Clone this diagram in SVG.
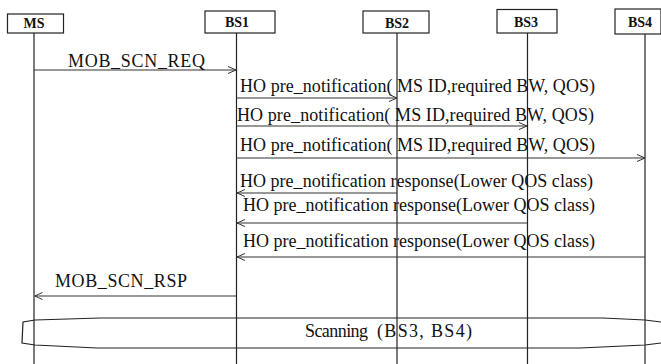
<svg xmlns="http://www.w3.org/2000/svg" width="661" height="364" viewBox="0 0 661 364">
<style>
.box{fill:#fff;stroke:#222;stroke-width:1.2}
.life{stroke:#222;stroke-width:1.2;fill:none}
.msg{stroke:#333;stroke-width:1.1;fill:none;marker-end:url(#open)}
text{font-family:"Times New Roman","Liberation Serif","DejaVu Serif",serif}
.lbl{font-size:14px;font-weight:bold;fill:#111;text-anchor:middle}
.t{font-size:18px;fill:#111}
.scan{fill:none;stroke:#222;stroke-width:1.2}
</style>
<defs>
<marker id="open" viewBox="0 0 8 8" refX="8" refY="4" markerWidth="8" markerHeight="8" markerUnits="userSpaceOnUse" orient="auto">
<path d="M0,0.5 L8,4 L0,7.5" fill="none" stroke="#333" stroke-width="1"/>
</marker>
</defs>
<rect width="661" height="364" fill="#fff"/>
<g id="lifelines">
<line class="life" x1="34" y1="33" x2="34" y2="364"/>
<line class="life" x1="236.5" y1="33" x2="236.5" y2="364"/>
<line class="life" x1="397" y1="33" x2="397" y2="364"/>
<line class="life" x1="527.5" y1="33" x2="527.5" y2="364"/>
<line class="life" x1="645" y1="34" x2="645" y2="364"/>
</g>
<g id="MS"><rect class="box" x="7.5" y="14" width="56" height="19"/><text class="lbl" x="34" y="28">MS</text></g>
<g id="BS1"><rect class="box" x="205" y="11" width="70" height="22"/><text class="lbl" x="237" y="27" font-size="15">BS1</text></g>
<g id="BS2"><rect class="box" x="363" y="11" width="66" height="22"/><text class="lbl" x="397" y="28">BS2</text></g>
<g id="BS3"><rect class="box" x="497" y="9.5" width="60" height="23.5"/><text class="lbl" x="526" y="27">BS3</text></g>
<g id="BS4"><rect class="box" x="615" y="9" width="46" height="25"/><text class="lbl" x="640" y="27">BS4</text></g>
<g id="connectors">
<line class="msg" x1="34" y1="70" x2="236" y2="70"/>
<line class="msg" x1="236.5" y1="98" x2="397" y2="98"/>
<line class="msg" x1="236.5" y1="126" x2="527" y2="126"/>
<line class="msg" x1="236.5" y1="158" x2="645" y2="158"/>
<line class="msg" x1="397" y1="193" x2="237" y2="193"/>
<line class="msg" x1="527.5" y1="223" x2="237" y2="223"/>
<line class="msg" x1="645" y1="257" x2="237" y2="257"/>
<line class="msg" x1="236.5" y1="296" x2="34.5" y2="296"/>
</g>
<g id="labels">
<text class="t" x="68" y="67" textLength="137" lengthAdjust="spacing">MOB_SCN_REQ</text>
<text class="t" x="240" y="92" textLength="355" lengthAdjust="spacing">HO pre_notification( MS ID,required BW, QOS)</text>
<text class="t" x="237" y="121" textLength="357" lengthAdjust="spacing">HO pre_notification( MS ID,required BW, QOS)</text>
<text class="t" x="240" y="151" textLength="355" lengthAdjust="spacing">HO pre_notification( MS ID,required BW, QOS)</text>
<text class="t" x="240" y="187" textLength="353" lengthAdjust="spacing">HO pre_notification response(Lower QOS class)</text>
<text class="t" x="243" y="211" textLength="352" lengthAdjust="spacing">HO pre_notification response(Lower QOS class)</text>
<text class="t" x="243" y="247" textLength="352" lengthAdjust="spacing">HO pre_notification response(Lower QOS class)</text>
<text class="t" x="55" y="287" textLength="132" lengthAdjust="spacing">MOB_SCN_RSP</text>
</g>
<g id="scanning">
<path class="scan" d="M661,322 L645,320 L603,318 L100,318 L35,320 L23,322 L22,343 L35,345 L97,348 L580,348 L645,345 L661,343"/>
<text class="t" x="305" y="337" font-size="17" textLength="63" lengthAdjust="spacing">Scanning</text>
<text class="t" x="377" y="337" font-size="17" textLength="95" lengthAdjust="spacing">(BS3, BS4)</text>
</g>
</svg>
